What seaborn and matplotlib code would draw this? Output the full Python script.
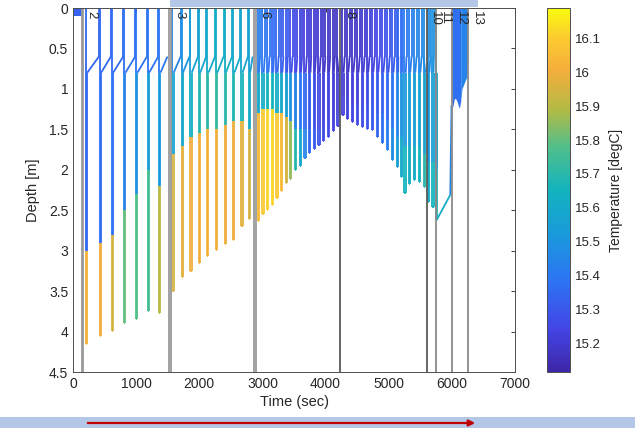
import matplotlib

matplotlib.use("Agg")

import matplotlib.pyplot as plt
import pandas as pd
import seaborn as sns
from matplotlib.collections import LineCollection
from matplotlib.colors import LinearSegmentedColormap, Normalize
from matplotlib.patches import FancyArrowPatch, Rectangle
from matplotlib.ticker import FuncFormatter


# ---- values ----
TEMP_RANGE = (15.115, 16.19)
cbar_ticks = [15.2, 15.3, 15.4, 15.5, 15.6, 15.7, 15.8, 15.9, 16.0, 16.1]

# station markers
event_line_times = [135, 165, 1525, 1550, 2872, 2898, 4230, 5600, 5750, 6000, 6250]
event_line_shade = ["light", "light", "light", "light", "light", "light",
                    "dark", "dark", "mid", "mid", "mid"]
event_label_times = [150, 1540, 2890, 4230, 5600, 5750, 6000, 6250]
event_labels = ["2", "3", "6", "8", "10", "11", "12", "13"]

# yo-yo casts: spike time (s), bottom depth (m), depth where the warm layer
# starts (m), temperature near surface / mid column / bottom (degC)
a_times = [205, 425, 615, 810, 1000, 1185, 1365]
a_bottom = [4.15, 4.05, 3.99, 3.89, 3.84, 3.74, 3.77]
a_break = [3.0, 2.9, 2.8, 2.5, 2.3, 2.0, 2.2]
a_top = [15.35, 15.35, 15.36, 15.37, 15.38, 15.38, 15.4]
a_mid = [15.35, 15.36, 15.38, 15.45, 15.5, 15.55, 15.52]
a_low = [16.02, 16.0, 15.95, 15.8, 15.78, 15.75, 15.9]

b_times = [1575, 1720, 1860, 1995, 2125, 2265, 2400, 2535, 2665, 2785]
b_bottom = [3.50, 3.33, 3.25, 3.15, 3.07, 2.99, 2.92, 2.87, 2.70, 2.61]
b_break = [1.8, 1.7, 1.6, 1.55, 1.5, 1.5, 1.45, 1.4, 1.4, 1.5]
b_top = [15.45, 15.5, 15.55, 15.58, 15.6, 15.62, 15.62, 15.6, 15.58, 15.55]
b_mid = [15.58, 15.6, 15.63, 15.68, 15.7, 15.72, 15.7, 15.68, 15.66, 15.62]
b_low = [15.95, 15.98, 16.0, 16.0, 16.02, 16.0, 16.0, 16.0, 15.98, 15.95]

c_times = [2925, 3000, 3075, 3150, 3220, 3295, 3370, 3440, 3515,
           3590, 3665, 3740, 3810, 3885, 3960, 4035, 4110, 4185]
c_bottom = [2.63, 2.55, 2.50, 2.44, 2.35, 2.26, 2.16, 2.12, 2.00,
            1.95, 1.85, 1.79, 1.74, 1.69, 1.65, 1.60, 1.52, 1.46]
c_break = [1.3, 1.25, 1.25, 1.25, 1.3, 1.3, 1.35, 1.4, 1.5,
           1.5, 1.5, 1.5, 1.5, 1.5, 1.5, 1.4, 1.4, 1.3]
c_top = [15.42, 15.4, 15.38, 15.36, 15.34, 15.32, 15.3, 15.27, 15.25,
         15.23, 15.22, 15.21, 15.2, 15.19, 15.19, 15.18, 15.18, 15.18]
c_mid = [15.6, 15.62, 15.65, 15.65, 15.62, 15.6, 15.55, 15.5, 15.45,
         15.4, 15.35, 15.3, 15.27, 15.25, 15.24, 15.23, 15.22, 15.21]
c_low = [16.05, 16.1, 16.12, 16.12, 16.1, 16.05, 15.95, 15.85, 15.7,
         15.6, 15.45, 15.35, 15.3, 15.28, 15.26, 15.25, 15.24, 15.23]

d_times = [4265, 4340, 4420, 4500, 4580, 4655, 4735, 4815, 4895,
           4975, 5055, 5130, 5190, 5250, 5320, 5400, 5480, 5560]
d_bottom = [1.32, 1.37, 1.41, 1.45, 1.47, 1.49, 1.51, 1.59, 1.67,
            1.75, 1.88, 1.96, 2.09, 2.29, 2.17, 2.13, 2.15, 2.21]
d_break = [1.1, 1.1, 1.2, 1.2, 1.2, 1.2, 1.2, 1.3, 1.3,
           1.4, 1.5, 1.6, 1.6, 1.7, 1.7, 1.7, 1.7, 1.8]
d_top = [15.18, 15.18, 15.18, 15.19, 15.2, 15.21, 15.23, 15.25, 15.27,
         15.29, 15.31, 15.34, 15.37, 15.4, 15.42, 15.45, 15.45, 15.48]
d_mid = [15.2, 15.21, 15.22, 15.23, 15.25, 15.27, 15.29, 15.31, 15.33,
         15.36, 15.4, 15.45, 15.5, 15.52, 15.55, 15.55, 15.56, 15.58]
d_low = [15.22, 15.23, 15.24, 15.26, 15.27, 15.29, 15.31, 15.34, 15.37,
         15.42, 15.48, 15.55, 15.6, 15.65, 15.62, 15.62, 15.65, 15.7]

e_times = [5625, 5690, 5745]
e_bottom = [2.40, 2.46, 2.62]
e_break = [1.9, 1.9, 2.0]
e_top = [15.48, 15.5, 15.5]
e_mid = [15.52, 15.55, 15.55]
e_low = [15.62, 15.65, 15.68]

# slow drift after the last cast, then up to the surface block
drift_times = [5760, 5975, 5995]
drift_depths = [2.62, 2.31, 1.2]
drift_temps = [15.62, 15.45]

# near-surface blocks (time, lower edge depth)
f_times = [6000, 6020, 6040, 6060, 6080, 6100, 6120, 6140]
f_bottom = [1.25, 1.2, 1.12, 1.12, 1.15, 1.2, 1.24, 1.15]
f_temp = 15.37
g_times = [6140, 6160, 6180, 6200, 6220, 6240, 6255]
g_bottom = [1.15, 1.0, 0.96, 0.92, 0.88, 0.85, 0.6]
g_temp = 15.44
start_times = [10, 140]
start_bottom = [0.1, 0.1]
start_temp = 15.33

segment_ends = [1510, 2860, 4220, 5590]

# parula-like colormap
parula = LinearSegmentedColormap.from_list("parula_like", [
    (0.00, "#3E26A8"), (0.12, "#4346E6"), (0.25, "#2C74F4"),
    (0.38, "#1A9ADB"), (0.50, "#12B3BE"), (0.62, "#52BF8A"),
    (0.72, "#B2BA45"), (0.83, "#F4AE3C"), (0.92, "#FBCB2F"),
    (1.00, "#F9FB0E"),
])

SHOULDER_START = 0.8
SHOULDER_END = 0.6
TURN = 20


def cast_pieces(times, bottom, brk, t_top, t_mid, t_low, seg_end,
                spike=20, last_shoulder=True):
    segs, vals = [], []

    def add(p0, p1, v):
        segs.append([p0, p1])
        vals.append(v)

    for i, ts in enumerate(times):
        up = ts + TURN
        add((ts, 0.0), (ts, SHOULDER_START), t_top[i])
        add((ts, SHOULDER_START), (ts, brk[i]), t_mid[i])
        add((ts, brk[i]), (ts, bottom[i]), t_low[i])
        add((ts, bottom[i]), (up, bottom[i]), t_low[i])
        add((up, bottom[i]), (up, brk[i]), t_low[i])
        add((up, brk[i]), (up, SHOULDER_START), t_mid[i])
        last = i == len(times) - 1
        if last and not last_shoulder:
            continue
        nxt = seg_end if last else times[i + 1]
        rise = nxt - spike
        add((up, SHOULDER_START), (rise, SHOULDER_END), t_top[i])
        if not last:
            add((rise, SHOULDER_END), (rise, 0.0), t_top[i])
    return segs, vals


def main():
    sns.set_style("white")
    plt.rcParams["font.family"] = ["Liberation Sans", "DejaVu Sans"]
    plt.rcParams["text.color"] = "#262626"

    fig = plt.figure(figsize=(6.35, 4.28), dpi=100)
    ax = fig.add_axes([0.115, 0.1308, 0.696, 0.8505])
    cax = fig.add_axes([0.8614, 0.1308, 0.0362, 0.8505])
    norm = Normalize(*TEMP_RANGE)

    segs, vals = [], []
    groups = [
        ((a_times, a_bottom, a_break, a_top, a_mid, a_low, segment_ends[0]), 15, True),
        ((b_times, b_bottom, b_break, b_top, b_mid, b_low, segment_ends[1]), 15, True),
        ((c_times, c_bottom, c_break, c_top, c_mid, c_low, segment_ends[2]), 38, True),
        ((d_times, d_bottom, d_break, d_top, d_mid, d_low, segment_ends[3]), 38, True),
        ((e_times, e_bottom, e_break, e_top, e_mid, e_low, drift_times[0]), 30, False),
    ]
    for cols, spike, shoulder in groups:
        s, v = cast_pieces(*cols, spike=spike, last_shoulder=shoulder)
        segs += s
        vals += v
    for i in range(len(drift_temps)):
        segs.append([(drift_times[i], drift_depths[i]), (drift_times[i + 1], drift_depths[i + 1])])
        vals.append(drift_temps[i])

    lc = LineCollection(segs, cmap=parula, norm=norm, linewidths=1.3, capstyle="butt")
    lc.set_array(vals)
    ax.add_collection(lc)

    for t, b, temp in [(f_times, f_bottom, f_temp), (g_times, g_bottom, g_temp),
                       (start_times, start_bottom, start_temp)]:
        ax.fill_between(t, 0, b, color=parula(norm(temp)), lw=0)

    # station marker lines
    ev = pd.DataFrame({
        "time": [t for t in event_line_times for _ in range(2)],
        "depth": [0, 4.5] * len(event_line_times),
        "event": [i for i in range(len(event_line_times)) for _ in range(2)],
        "shade": [s for s in event_line_shade for _ in range(2)],
    })
    sns.lineplot(data=ev, x="time", y="depth", units="event", hue="shade",
                 palette={"light": "#9a9a9a", "mid": "#8a8a8a", "dark": "#5a5a5a"},
                 estimator=None, sort=False, lw=1.3, legend=False, ax=ax)
    for t, lab in zip(event_label_times, event_labels):
        ax.text(t + 45, 0.04, lab, rotation=-90, ha="left", va="top",
                fontsize=9.5, color="#262626")

    ax.set_xlim(0, 7000)
    ax.set_ylim(4.5, 0)
    ax.set_xticks(range(0, 7001, 1000))
    ax.set_yticks([0, 0.5, 1, 1.5, 2, 2.5, 3, 3.5, 4, 4.5])
    fmt = FuncFormatter(lambda v, p: f"{v:g}")
    ax.yaxis.set_major_formatter(fmt)
    ax.tick_params(direction="in", length=3, width=0.6, colors="#262626",
                   labelsize=10, top=True, right=True)
    for sp in ax.spines.values():
        sp.set_color("#4d4d4d")
        sp.set_linewidth(0.7)
    ax.set_xlabel("Time (sec)", fontsize=10.5, labelpad=3)
    ax.set_ylabel("Depth [m]", fontsize=10.5, labelpad=6)

    cb = fig.colorbar(lc, cax=cax, ticks=cbar_ticks)
    cb.ax.yaxis.set_major_formatter(fmt)
    cb.ax.tick_params(direction="in", length=3, width=0.6, labelsize=9.5, colors="#262626")
    cb.outline.set_edgecolor("#4d4d4d")
    cb.outline.set_linewidth(0.7)
    cb.set_label("Temperature [degC]", fontsize=10, labelpad=6)

    # slide decorations around the chart
    fig.add_artist(Rectangle((170 / 635, 1 - 7 / 428), 308 / 635, 7 / 428,
                             transform=fig.transFigure, color="#b4c7e7", lw=0, zorder=5))
    fig.add_artist(Rectangle((0, 0), 1, 11 / 428, transform=fig.transFigure,
                             color="#b4c7e7", lw=0, zorder=5))
    fig.add_artist(FancyArrowPatch((85 / 635, 5 / 428), (478 / 635, 5 / 428),
                                   transform=fig.transFigure, arrowstyle="-|>",
                                   mutation_scale=9, color="#c00000", lw=1.6, zorder=6))

    fig.savefig("out.png", dpi=100)
    plt.close(fig)


if __name__ == "__main__":
    main()
